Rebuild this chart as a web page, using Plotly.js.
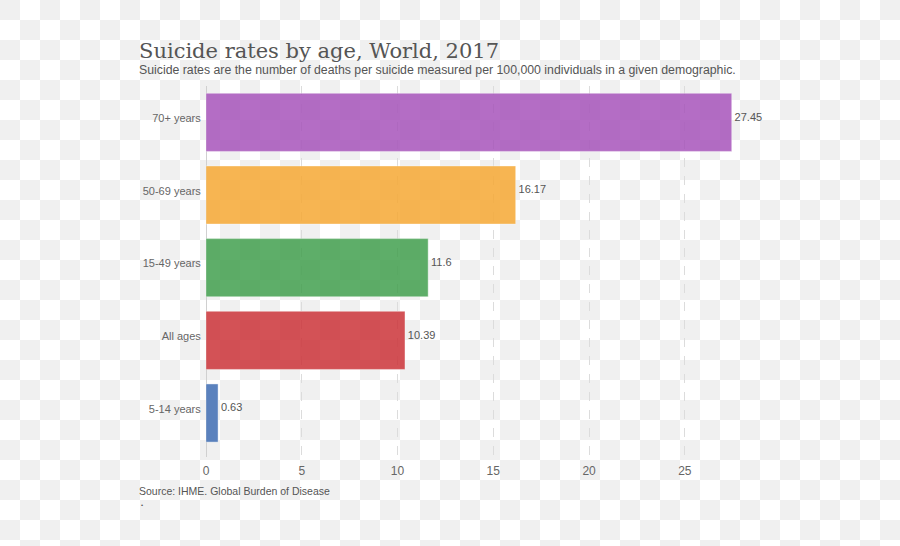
<!DOCTYPE html>
<html><head><meta charset="utf-8">
<script src="https://cdn.plot.ly/plotly-3.0.1.min.js"></script>
<style>
html,body{margin:0;padding:0;}
body{width:900px;height:546px;background-color:#fff;
background-image:linear-gradient(45deg,#f0f0f0 25%,transparent 25%,transparent 75%,#f0f0f0 75%),linear-gradient(45deg,#f0f0f0 25%,transparent 25%,transparent 75%,#f0f0f0 75%);
background-size:40px 40px;background-position:20px 0,0 20px;}
#chart{width:900px;height:546px;}
</style></head><body>
<div id="chart"></div>
<script>
var categories = ["5-14 years", "All ages", "15-49 years", "50-69 years", "70+ years"];
var values = [0.63, 10.39, 11.6, 16.17, 27.45];
var labels = ["0.63", "10.39", "11.6", "16.17", "27.45"];
var colors = ["#3f6db3", "#cc3439", "#43a04f", "#f6a935", "#a754bb"];
var xTicks = [0, 5, 10, 15, 20, 25];

var yRange = [-0.605, 4.5];
var textLift = 0.06; // labels sit slightly above bar centres
var font = "Liberation Sans, Arial, sans-serif";

var bars = {
  type: "bar", orientation: "h",
  y: categories, x: values, yaxis: "y",
  marker: {color: colors, opacity: 0.85, line: {color: "rgba(255,255,255,0.4)", width: 1}},
  hoverinfo: "none"
};
var valueText = {
  type: "scatter", mode: "markers+text", yaxis: "y2",
  y: categories, x: values, text: labels,
  marker: {size: 3, color: "rgba(0,0,0,0)"},
  textposition: "middle right", cliponaxis: false,
  textfont: {family: font, size: 11, color: "#555"},
  hoverinfo: "none"
};
var layout = {
  width: 900, height: 546,
  paper_bgcolor: "rgba(0,0,0,0)", plot_bgcolor: "rgba(0,0,0,0)",
  margin: {l: 206, r: 129, t: 86, b: 89},
  bargap: 0.2,
  showlegend: false,
  title: {text: "Suicide rates by age, World, 2017", xref: "container", yref: "container",
    x: 139/900, xanchor: "left", y: 1 - 51/546, yanchor: "middle",
    font: {family: "DejaVu Serif, serif", size: 21, color: "#555"}},
  xaxis: {range: [0, 29.5], tickvals: xTicks, ticktext: xTicks.map(String),
    showgrid: true, gridcolor: "#dcdcdc", griddash: "dash", gridwidth: 1,
    zeroline: true, zerolinecolor: "#d0d0d0", zerolinewidth: 1,
    showline: false, ticks: "outside", ticklen: 3, tickcolor: "rgba(0,0,0,0)",
    tickfont: {family: font, size: 12, color: "#666"}},
  yaxis: {type: "category", categoryorder: "array", categoryarray: categories,
    range: yRange, showgrid: false, zeroline: false, showline: false,
    showticklabels: false},
  yaxis2: {type: "category", categoryorder: "array", categoryarray: categories,
    overlaying: "y", side: "left",
    range: [yRange[0] - textLift, yRange[1] - textLift],
    showgrid: false, zeroline: false, showline: false,
    ticks: "outside", ticklen: 2, tickcolor: "rgba(0,0,0,0)",
    tickfont: {family: font, size: 11, color: "#666"}},
  annotations: [
    {text: "Suicide rates are the number of deaths per suicide measured per 100,000 individuals in a given demographic.",
     xref: "paper", yref: "paper", x: (137-206)/565, xanchor: "left",
     y: 1 + (86-70)/371, yanchor: "middle", showarrow: false,
     font: {family: font, size: 12.3, color: "#555"}},
    {text: "Source: IHME. Global Burden of Disease",
     xref: "paper", yref: "paper", x: (137-206)/565, xanchor: "left",
     y: -(491-457)/371, yanchor: "middle", showarrow: false,
     font: {family: font, size: 10.5, color: "#555"}},
    {text: "•",
     xref: "paper", yref: "paper", x: (139-206)/565, xanchor: "left",
     y: -(505-457)/371, yanchor: "middle", showarrow: false,
     font: {family: font, size: 6, color: "#555"}}
  ]
};
Plotly.newPlot("chart", [bars, valueText], layout, {displayModeBar: false, staticPlot: true});
</script>
</body></html>
